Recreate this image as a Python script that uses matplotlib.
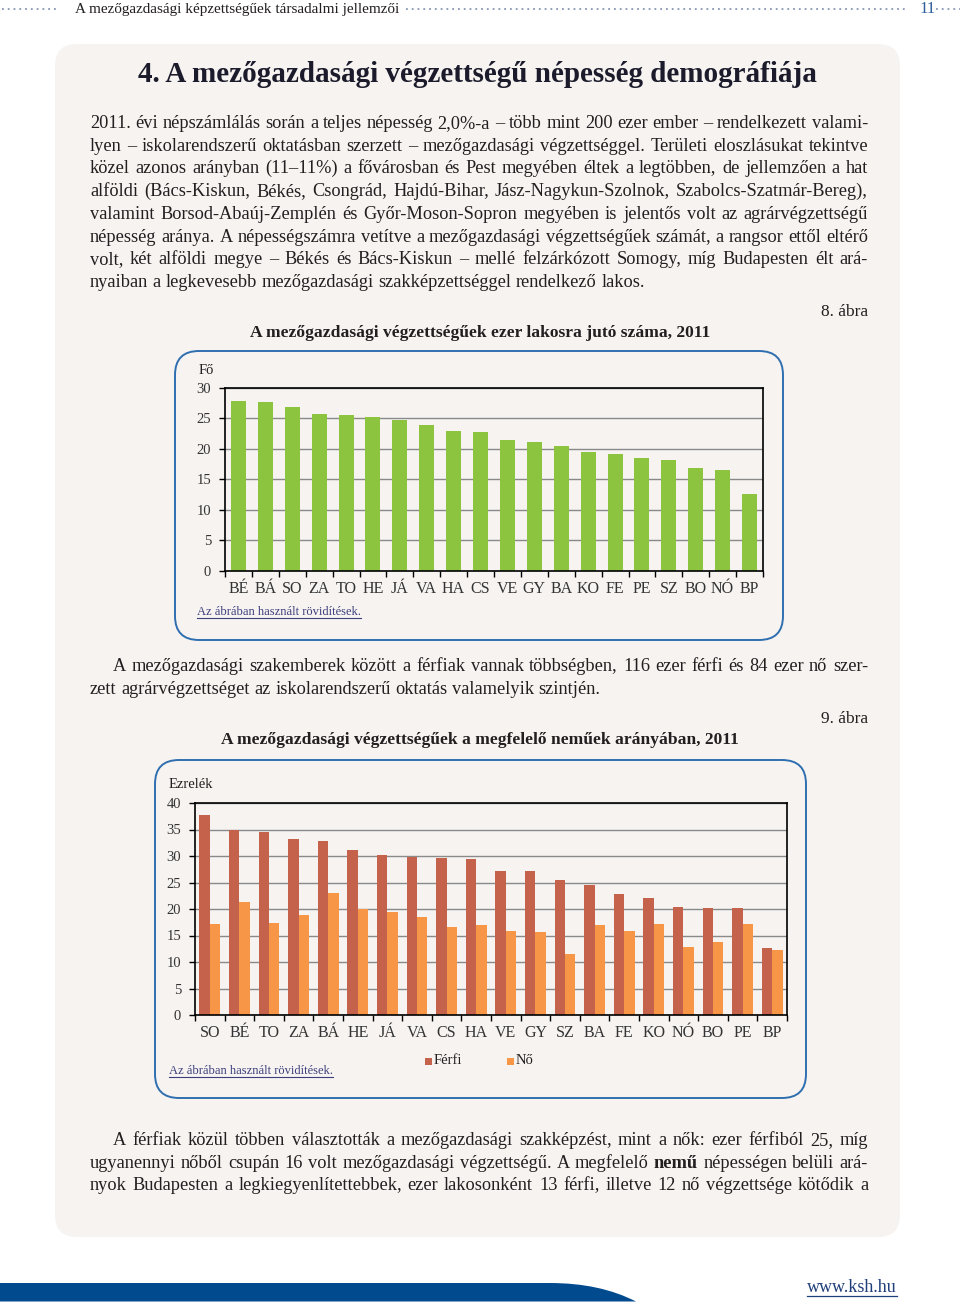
import numpy as np
import matplotlib
matplotlib.use("Agg")
import matplotlib.pyplot as plt
from matplotlib.patches import FancyBboxPatch, PathPatch, Rectangle
from matplotlib.path import Path

# chart 8: agricultural graduates per 1000 inhabitants, 2011
cats1 = ["BÉ", "BÁ", "SO", "ZA", "TO", "HE", "JÁ", "VA", "HA", "CS",
         "VE", "GY", "BA", "KO", "FE", "PE", "SZ", "BO", "NÓ", "BP"]
vals1 = [27.9, 27.7, 26.9, 25.7, 25.6, 25.2, 24.7, 23.9, 22.9, 22.8,
         21.4, 21.2, 20.5, 19.5, 19.2, 18.6, 18.2, 16.9, 16.5, 12.6]

# chart 9: per mille of the same sex, 2011
cats2 = ["SO", "BÉ", "TO", "ZA", "BÁ", "HE", "JÁ", "VA", "CS", "HA",
         "VE", "GY", "SZ", "BA", "FE", "KO", "NÓ", "BO", "PE", "BP"]
ferfi = [37.7, 35.0, 34.6, 33.3, 32.9, 31.2, 30.1, 29.9, 29.7, 29.4,
         27.2, 27.1, 25.4, 24.5, 22.8, 22.0, 20.4, 20.2, 20.1, 12.7]
no = [17.1, 21.4, 17.3, 18.8, 23.0, 20.0, 19.5, 18.5, 16.6, 16.9,
      15.9, 15.6, 11.5, 16.9, 15.9, 17.1, 12.9, 13.8, 17.1, 12.3]

para1 = [
    "2011. évi népszámlálás során a teljes népesség 2,0%-a – több mint 200 ezer ember – rendelkezett valami-",
    "lyen – iskolarendszerű oktatásban szerzett – mezőgazdasági végzettséggel. Területi eloszlásukat tekintve",
    "közel azonos arányban (11–11%) a fővárosban és Pest megyében éltek a legtöbben, de jellemzően a hat",
    "alföldi (Bács-Kiskun, Békés, Csongrád, Hajdú-Bihar, Jász-Nagykun-Szolnok, Szabolcs-Szatmár-Bereg),",
    "valamint Borsod-Abaúj-Zemplén és Győr-Moson-Sopron megyében is jelentős volt az agrárvégzettségű",
    "népesség aránya. A népességszámra vetítve a mezőgazdasági végzettségűek számát, a rangsor ettől eltérő",
    "volt, két alföldi megye – Békés és Bács-Kiskun – mellé felzárkózott Somogy, míg Budapesten élt ará-",
    "nyaiban a legkevesebb mezőgazdasági szakképzettséggel rendelkező lakos.",
]
para2 = [
    "A mezőgazdasági szakemberek között a férfiak vannak többségben, 116 ezer férfi és 84 ezer nő szer-",
    "zett agrárvégzettséget az iskolarendszerű oktatás valamelyik szintjén.",
]
para3 = [
    "A férfiak közül többen választották a mezőgazdasági szakképzést, mint a nők: ezer férfiból 25, míg",
    "ugyanennyi nőből csupán 16 volt mezőgazdasági végzettségű. A megfelelő *nemű* népességen belüli ará-",
    "nyok Budapesten a legkiegyenlítettebbek, ezer lakosonként 13 férfi, illetve 12 nő végzettsége kötődik a",
]

SERIF = "Liberation Serif"
TXT = "#231f20"
PANEL = "#f6f3f1"
BOXC = "#2f6fb0"
BODY = 13.2

W, H = 960, 1308
fig = plt.figure(figsize=(W / 100, H / 100), dpi=100)
fig.patch.set_facecolor("white")
bg = fig.add_axes([0, 0, 1, 1])
bg.set_xlim(0, W)
bg.set_ylim(H, 0)
bg.axis("off")
renderer = fig.canvas.get_renderer()


def px_axes(x0, y0, x1, y1):
    return fig.add_axes([x0 / W, 1 - y1 / H, (x1 - x0) / W, (y1 - y0) / H])


def line(text, x0, x1, y, justify=True, size=BODY):
    words = text.split(" ")
    objs = []
    for w in words:
        bold = w.startswith("*")
        t = bg.text(0, y, w.strip("*"), fontsize=size, family=SERIF, color=TXT,
                    weight="bold" if bold else "normal", va="baseline")
        objs.append(t)
    widths = [t.get_window_extent(renderer).width for t in objs]
    if justify and len(objs) > 1:
        gap = (x1 - x0 - sum(widths)) / (len(objs) - 1)
    else:
        gap = size * 100 / 72 * 0.25
    x = x0
    for t, wd in zip(objs, widths):
        t.set_x(x)
        x += wd + gap


# header with dotted leaders
dot = dict(color="#8797b3", lw=1.3, linestyle=(0, (1, 2.2)))
bg.plot([2, 58], [9, 9], **dot)
bg.plot([406, 906], [9, 9], **dot)
bg.plot([936, 960], [9, 9], **dot)
bg.text(75, 9, "A mezőgazdasági képzettségűek társadalmi jellemzői", fontsize=11,
        family=SERIF, color=TXT, va="center")
bg.text(919, 9, "11", fontsize=12, family=SERIF, color="#2e5c9a", va="center")

# page panel
bg.add_patch(FancyBboxPatch((55, 44), 845, 1193, boxstyle="round,pad=0,rounding_size=22",
                            facecolor=PANEL, edgecolor="none"))

bg.text(138, 75, "4. A mezőgazdasági végzettségű népesség demográfiája", fontsize=21,
        family=SERIF, weight="bold", color="#1b1b2b", va="center")

for i, s in enumerate(para1):
    line(s, 90, 868, 128 + i * 22.7, justify=i < len(para1) - 1)

bg.text(868, 312, "8. ábra", fontsize=12.5, family=SERIF, color=TXT, ha="right", va="center")
bg.text(480, 333, "A mezőgazdasági végzettségűek ezer lakosra jutó száma, 2011", fontsize=12.6,
        family=SERIF, weight="bold", color=TXT, ha="center", va="center")

line(para2[0], 113, 868, 671)
line(para2[1], 90, 868, 694, justify=False)

bg.text(868, 719, "9. ábra", fontsize=12.5, family=SERIF, color=TXT, ha="right", va="center")
bg.text(480, 740, "A mezőgazdasági végzettségűek a megfelelő neműek arányában, 2011", fontsize=12.6,
        family=SERIF, weight="bold", color=TXT, ha="center", va="center")

for i, s in enumerate(para3):
    line(s, 113 if i == 0 else 90, 868, 1145 + i * 22.7)

# chart boxes
bg.add_patch(FancyBboxPatch((175, 351), 608, 289, boxstyle="round,pad=0,rounding_size=24",
                            facecolor="none", edgecolor=BOXC, lw=1.4))
bg.add_patch(FancyBboxPatch((155, 760), 651, 338, boxstyle="round,pad=0,rounding_size=24",
                            facecolor="none", edgecolor=BOXC, lw=1.4))

link = dict(fontsize=9, family=SERIF, color="#3d3f7c", va="center")
for (lx, ly) in [(197, 612), (169, 1071)]:
    t = bg.text(lx, ly, "Az ábrában használt rövidítések.", **link)
    wd = t.get_window_extent(renderer).width
    bg.plot([lx, lx + wd], [ly + 6, ly + 6], color="#3d3f7c", lw=0.8)

bg.text(199, 370, "Fő", fontsize=10.5, family=SERIF, color=TXT, va="center")
bg.text(169, 784, "Ezrelék", fontsize=10.5, family=SERIF, color=TXT, va="center")

# footer band
verts = [(0, 1283), (550, 1283), (600, 1283), (636, 1301.5), (0, 1301.5), (0, 1283)]
codes = [Path.MOVETO, Path.LINETO, Path.CURVE3, Path.CURVE3, Path.LINETO, Path.CLOSEPOLY]
bg.add_patch(PathPatch(Path(verts, codes), facecolor="#004a8d", edgecolor="none"))
t = bg.text(807, 1287, "www.ksh.hu", fontsize=13, family=SERIF, color="#1f3f7a", va="center")
wd = t.get_window_extent(renderer).width
bg.plot([807, 807 + wd], [1296, 1296], color="#1f3f7a", lw=0.9)


def style(ax, ymax, n):
    ax.set_facecolor("none")
    ax.set_xlim(-0.5, n - 0.5)
    ax.set_ylim(0, ymax)
    ax.set_yticks(np.arange(0, ymax + 1, 5))
    ax.yaxis.grid(True, color="#8a8a8a", lw=1)
    ax.set_axisbelow(True)
    ax.set_xticks(np.arange(-0.5, n), minor=True)
    ax.tick_params(axis="x", which="major", length=0, pad=7)
    ax.tick_params(axis="x", which="minor", length=4, width=1, direction="out")
    ax.tick_params(axis="y", length=4, width=1, direction="out", pad=6)
    for sp in ax.spines.values():
        sp.set_color("black")
        sp.set_linewidth(1.2)
    for lab in ax.get_xticklabels() + ax.get_yticklabels():
        lab.set_family(SERIF)
        lab.set_color("#333333")
    for lab in ax.get_xticklabels():
        lab.set_fontsize(11.5)
    for lab in ax.get_yticklabels():
        lab.set_fontsize(10.5)


x1 = np.arange(len(cats1))
ax1 = px_axes(225, 388, 763, 571)
ax1.bar(x1, vals1, width=0.56, color="#8cc43f")
ax1.set_xticks(x1)
ax1.set_xticklabels(cats1)
style(ax1, 30, len(cats1))

x2 = np.arange(len(cats2))
ax2 = px_axes(195, 803, 787, 1015)
ax2.bar(x2 - 0.177, ferfi, width=0.355, color="#c5624b", label="Férfi")
ax2.bar(x2 + 0.177, no, width=0.355, color="#f79646", label="Nő")
ax2.set_xticks(x2)
ax2.set_xticklabels(cats2)
style(ax2, 40, len(cats2))

# legend
for (sx, lab, c) in [(425, "Férfi", "#c5624b"), (507, "Nő", "#f79646")]:
    bg.add_patch(Rectangle((sx, 1058), 6.5, 6.5, facecolor=c, edgecolor="none"))
    bg.text(sx + 9, 1061, lab, fontsize=10.5, family=SERIF, color=TXT, va="center")

fig.savefig("out.png", dpi=100)
